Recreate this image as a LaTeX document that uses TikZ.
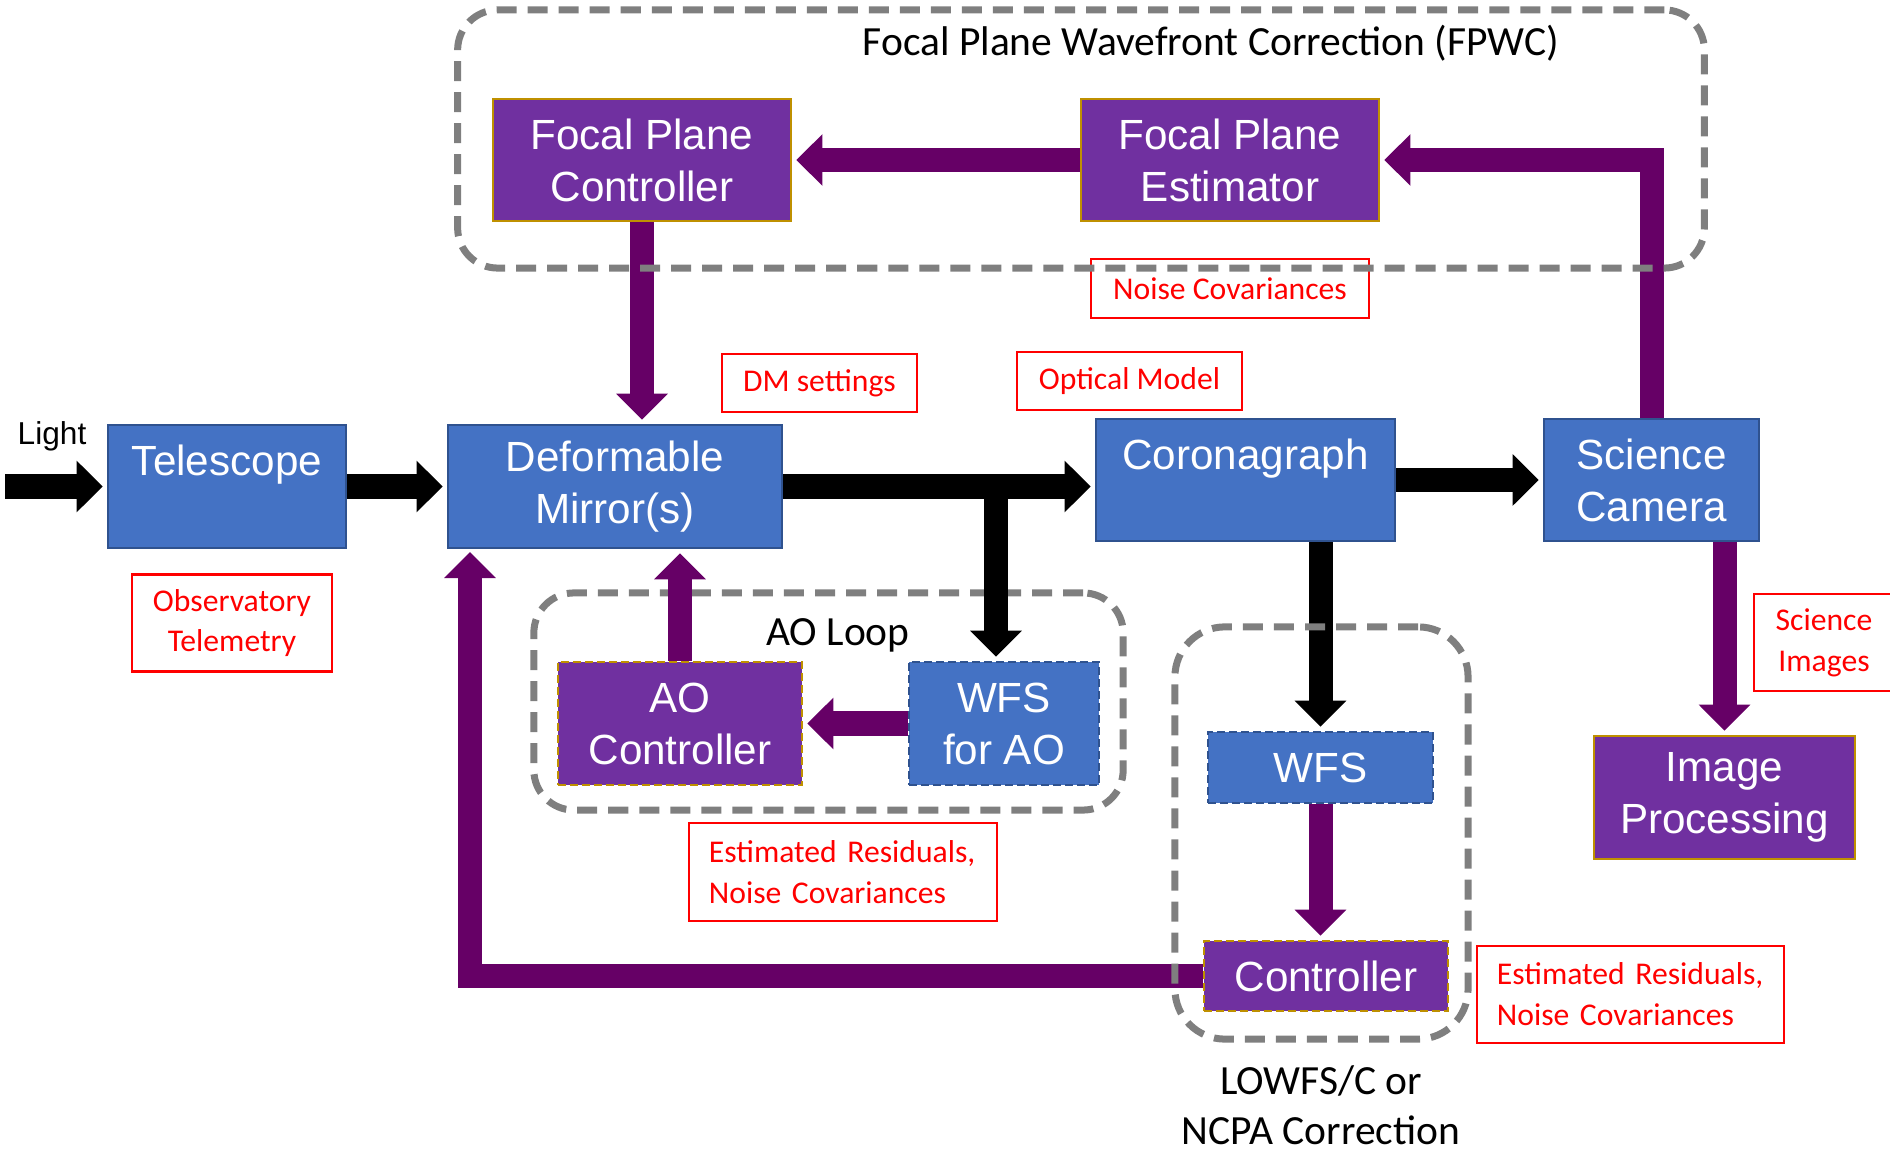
\documentclass[tikz,border=0pt]{standalone}
\usepackage{fontspec}
\setmainfont{Carlito}
\newfontfamily\arialfont{Liberation Sans}
\usepackage{tikz}
\usetikzlibrary{arrows.meta,positioning}
\definecolor{boxblue}{HTML}{4472C4}
\definecolor{edgeblue}{HTML}{2F528F}
\definecolor{boxpurple}{HTML}{7030A0}
\definecolor{edgegold}{HTML}{BF9000}
\definecolor{flowpurple}{HTML}{660066}
\definecolor{zonegray}{HTML}{7F7F7F}

\begin{document}
\begin{tikzpicture}[
    x=0.01cm,
    y=-0.01cm,
    >={Triangle[length=2.6mm, width=5mm]},
    optic/.style={
		rectangle,
		draw=edgeblue,
		line width=0.25mm,
		fill=boxblue,
		text=white,
		align=center,
		inner sep=0pt,
		font=\arialfont\fontsize{12}{14.8}\selectfont
	},
	ctrl/.style={
		optic,
		draw=edgegold,
		fill=boxpurple
	},
	dashedge/.style={
		dash pattern=on 0.8mm off 0.4mm
	},
	note/.style={
		rectangle,
		draw=red,
		line width=0.25mm,
		text=red,
		align=center,
		inner sep=0pt,
		font=\fontsize{9}{11.6}\selectfont
	},
	zone/.style={
		rectangle,
		draw=zonegray,
		line width=0.7mm,
		dash pattern=on 2mm off 1.1mm,
		rounded corners=4mm,
		inner sep=0pt
	},
	zonetitle/.style={
		inner sep=0pt,
		align=center,
		font=\fontsize{11.8}{14.1}\selectfont
	},
	beam/.style={
		->,
		draw=black,
		line width=2.4mm,
		shorten >=0.4mm
	},
	flow/.style={
		->,
		draw=flowpurple,
		line width=2.4mm,
		shorten >=0.4mm
	}
  ]
 \useasboundingbox (0,0) rectangle (1890,1152);

% // optical train
 \node [optic, minimum width=2.38cm, minimum height=1.23cm] (tel) at (227,486.5) {Telescope\\ \mbox{}};
 \node [optic, minimum width=3.34cm, minimum height=1.23cm] (dm) at (615,486.5) {\raisebox{-0.05cm}{Deformable}\\\raisebox{-0.05cm}{Mirror(s)}};
 \node [optic, minimum width=2.99cm, minimum height=1.22cm] (cor) at (1245.5,480) {Coronagraph\\ \mbox{}};
 \node [optic, minimum width=2.15cm, minimum height=1.22cm] (sci) at (1651.5,480) {Science\\Camera};
 \node [font=\arialfont\fontsize{9}{11}\selectfont, inner sep=0pt] (light) at (52,436) {Light};
 \coordinate (src) at (5,486.5);

% // the AO loop
 \node [zone, minimum width=5.89cm, minimum height=2.17cm] (aoloop) at (828.5,701.5) {};
 \node [zonetitle] (aotitle) at (838,635) {AO Loop};
 \node [ctrl, dashedge, minimum width=2.44cm, minimum height=1.23cm] (aoc) at (680,723.5) {AO\\Controller};
 \node [optic, dashedge, minimum width=1.90cm, minimum height=1.23cm] (wfsao) at (1004,723.5) {WFS\\for AO};

% // focal plane boxes
 \node [ctrl, minimum width=2.98cm, minimum height=1.22cm] (fpc) at (642,160) {Focal Plane\\Controller};
 \node [ctrl, minimum width=2.98cm, minimum height=1.22cm] (fpe) at (1230,160) {Focal Plane\\Estimator};

% // low order loop and image processing
 \node [optic, dashedge, minimum width=2.25cm, minimum height=0.71cm] (wfs) at (1320.5,767.5) {WFS};
 \node [ctrl, dashedge, minimum width=2.44cm, minimum height=0.70cm] (lowctrl) at (1326,976) {Controller};
 \node [ctrl, minimum width=2.61cm, minimum height=1.23cm] (imp) at (1724.5,797.5) {\raisebox{-0.06cm}{Image}\\\raisebox{-0.06cm}{Processing}};
 \coordinate (dmfeed) at (470,548);

% // red notes
 \node [note, minimum width=2.00cm, minimum height=0.97cm, below=0.24cm of tel, xshift=0.05cm] (telem) {Observatory\\Telemetry};
 \node [note, minimum width=1.95cm, minimum height=0.58cm] (dmset) at (819.5,383) {DM settings};
 \node [note, minimum width=2.25cm, minimum height=0.58cm] (optmod) at (1129.5,381) {Optical Model};
 \node [note, minimum width=2.78cm, minimum height=0.59cm] (noise) at (1230,288.5) {Noise Covariances};
 \node [note, align=left, text width=2.68cm, inner xsep=2mm, minimum height=0.98cm] (resao) at (843,872) {Estimated Residuals,\\Noise Covariances};
 \node [note, align=left, text width=2.67cm, inner xsep=2mm, minimum height=0.97cm] (reslow) at (1630.5,994.5) {Estimated Residuals,\\Noise Covariances};
 \node [note, minimum width=1.40cm, minimum height=0.97cm] (sciimg) at (1824,642.5) {Science\\Images};

% // light path
 \draw [beam] (src) -- (tel.west);
 \draw [beam] (tel.east) -- (dm.west);
 \draw [beam] (dm.east) -- (dm.east -| cor.west);
 \draw [beam] ([xshift=-0.08cm]wfsao.north |- dm.east) -- ([xshift=-0.08cm]wfsao.north);
 \draw [beam] (cor.east) -- (sci.west);
 \draw [beam] (wfs.north |- cor.south) -- (wfs.north);

% // control path
 \draw [flow] (fpe.west) -- (fpc.east);
 \draw [flow] (fpc.south) -- (fpc.south |- dm.north);
 \draw [flow] (sci.north) |- (fpe.east);
 \draw [flow] (wfsao.west) -- (aoc.east);
 \draw [flow] (aoc.north) -- (aoc.north |- dm.south);
 \draw [flow] (wfs.south) -- (wfs.south |- lowctrl.north);
 \draw [flow] (lowctrl.west) -| (dmfeed);
 \draw [flow] (imp.north |- sci.south) -- (imp.north);

% // FPWC and LOWFS zones
 \node [zone, minimum width=12.46cm, minimum height=2.58cm] (fpwc) at (1081,139) {};
 \node [zonetitle] (fpwctitle) at (1211,43) {Focal Plane Wavefront Correction (FPWC)};
 \node [zone, rounded corners=5mm, minimum width=2.93cm, minimum height=4.12cm] (lowfs) at (1321.5,833) {};
 \node [zonetitle] (lowtitle) at (1321,1105) {LOWFS/C or\\NCPA Correction};

\end{tikzpicture}
\end{document}
